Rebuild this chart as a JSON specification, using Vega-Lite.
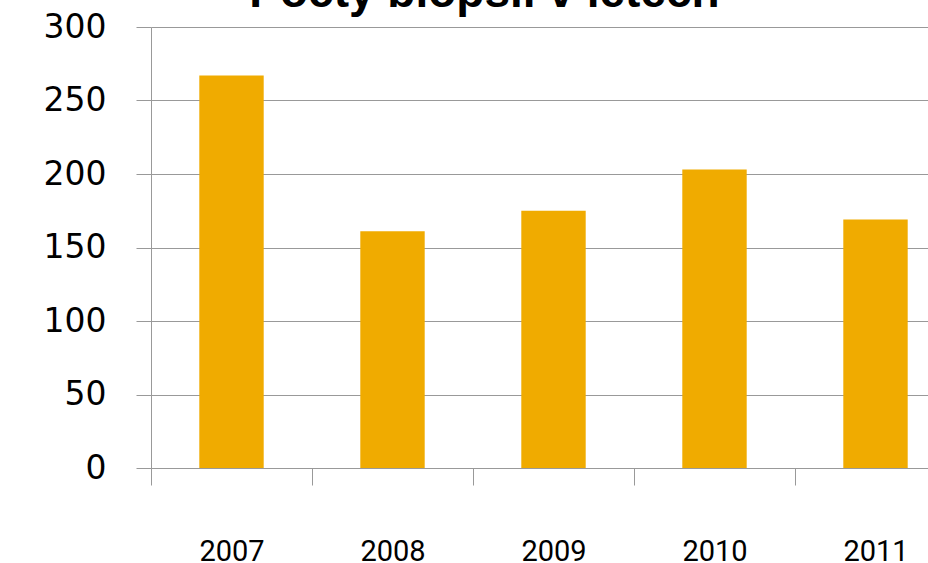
{
  "$schema": "https://vega.github.io/schema/vega-lite/v6.json",
  "autosize": "none",
  "width": 805,
  "height": 441,
  "padding": {"left": 151, "top": 27, "right": 0, "bottom": 95},
  "background": "white",
  "title": {
    "text": "Počty biopsií v letech",
    "font": "Liberation Sans",
    "fontSize": 46,
    "fontWeight": "bold",
    "color": "#000000",
    "anchor": "middle",
    "dx": -69,
    "baseline": "alphabetic",
    "offset": -42
  },
  "data": {
    "values": [
      {"year": "2007", "count": 267},
      {"year": "2008", "count": 161},
      {"year": "2009", "count": 175},
      {"year": "2010", "count": 203},
      {"year": "2011", "count": 169}
    ]
  },
  "mark": {"type": "bar", "color": "#F0AB00", "width": {"band": 0.4}},
  "encoding": {
    "x": {
      "field": "year",
      "type": "ordinal",
      "scale": {"paddingInner": 0, "paddingOuter": 0},
      "axis": {
        "title": null,
        "labelAngle": 0,
        "labelFont": "Roboto",
        "labelFontSize": 29,
        "labelColor": "#000000",
        "labelPadding": 52,
        "tickBand": "extent",
        "tickSize": 17,
        "tickColor": "#999999",
        "domainColor": "#999999",
        "grid": false
      }
    },
    "y": {
      "field": "count",
      "type": "quantitative",
      "scale": {"domain": [0, 300], "nice": false},
      "axis": {
        "title": null,
        "values": [0, 50, 100, 150, 200, 250, 300],
        "labelFont": "DejaVu Sans",
        "labelFontSize": 33,
        "labelColor": "#000000",
        "labelPadding": 30,
        "tickSize": 15,
        "tickColor": "#999999",
        "domainColor": "#999999",
        "gridColor": "#999999",
        "grid": true
      }
    }
  },
  "config": {"view": {"stroke": null}}
}
